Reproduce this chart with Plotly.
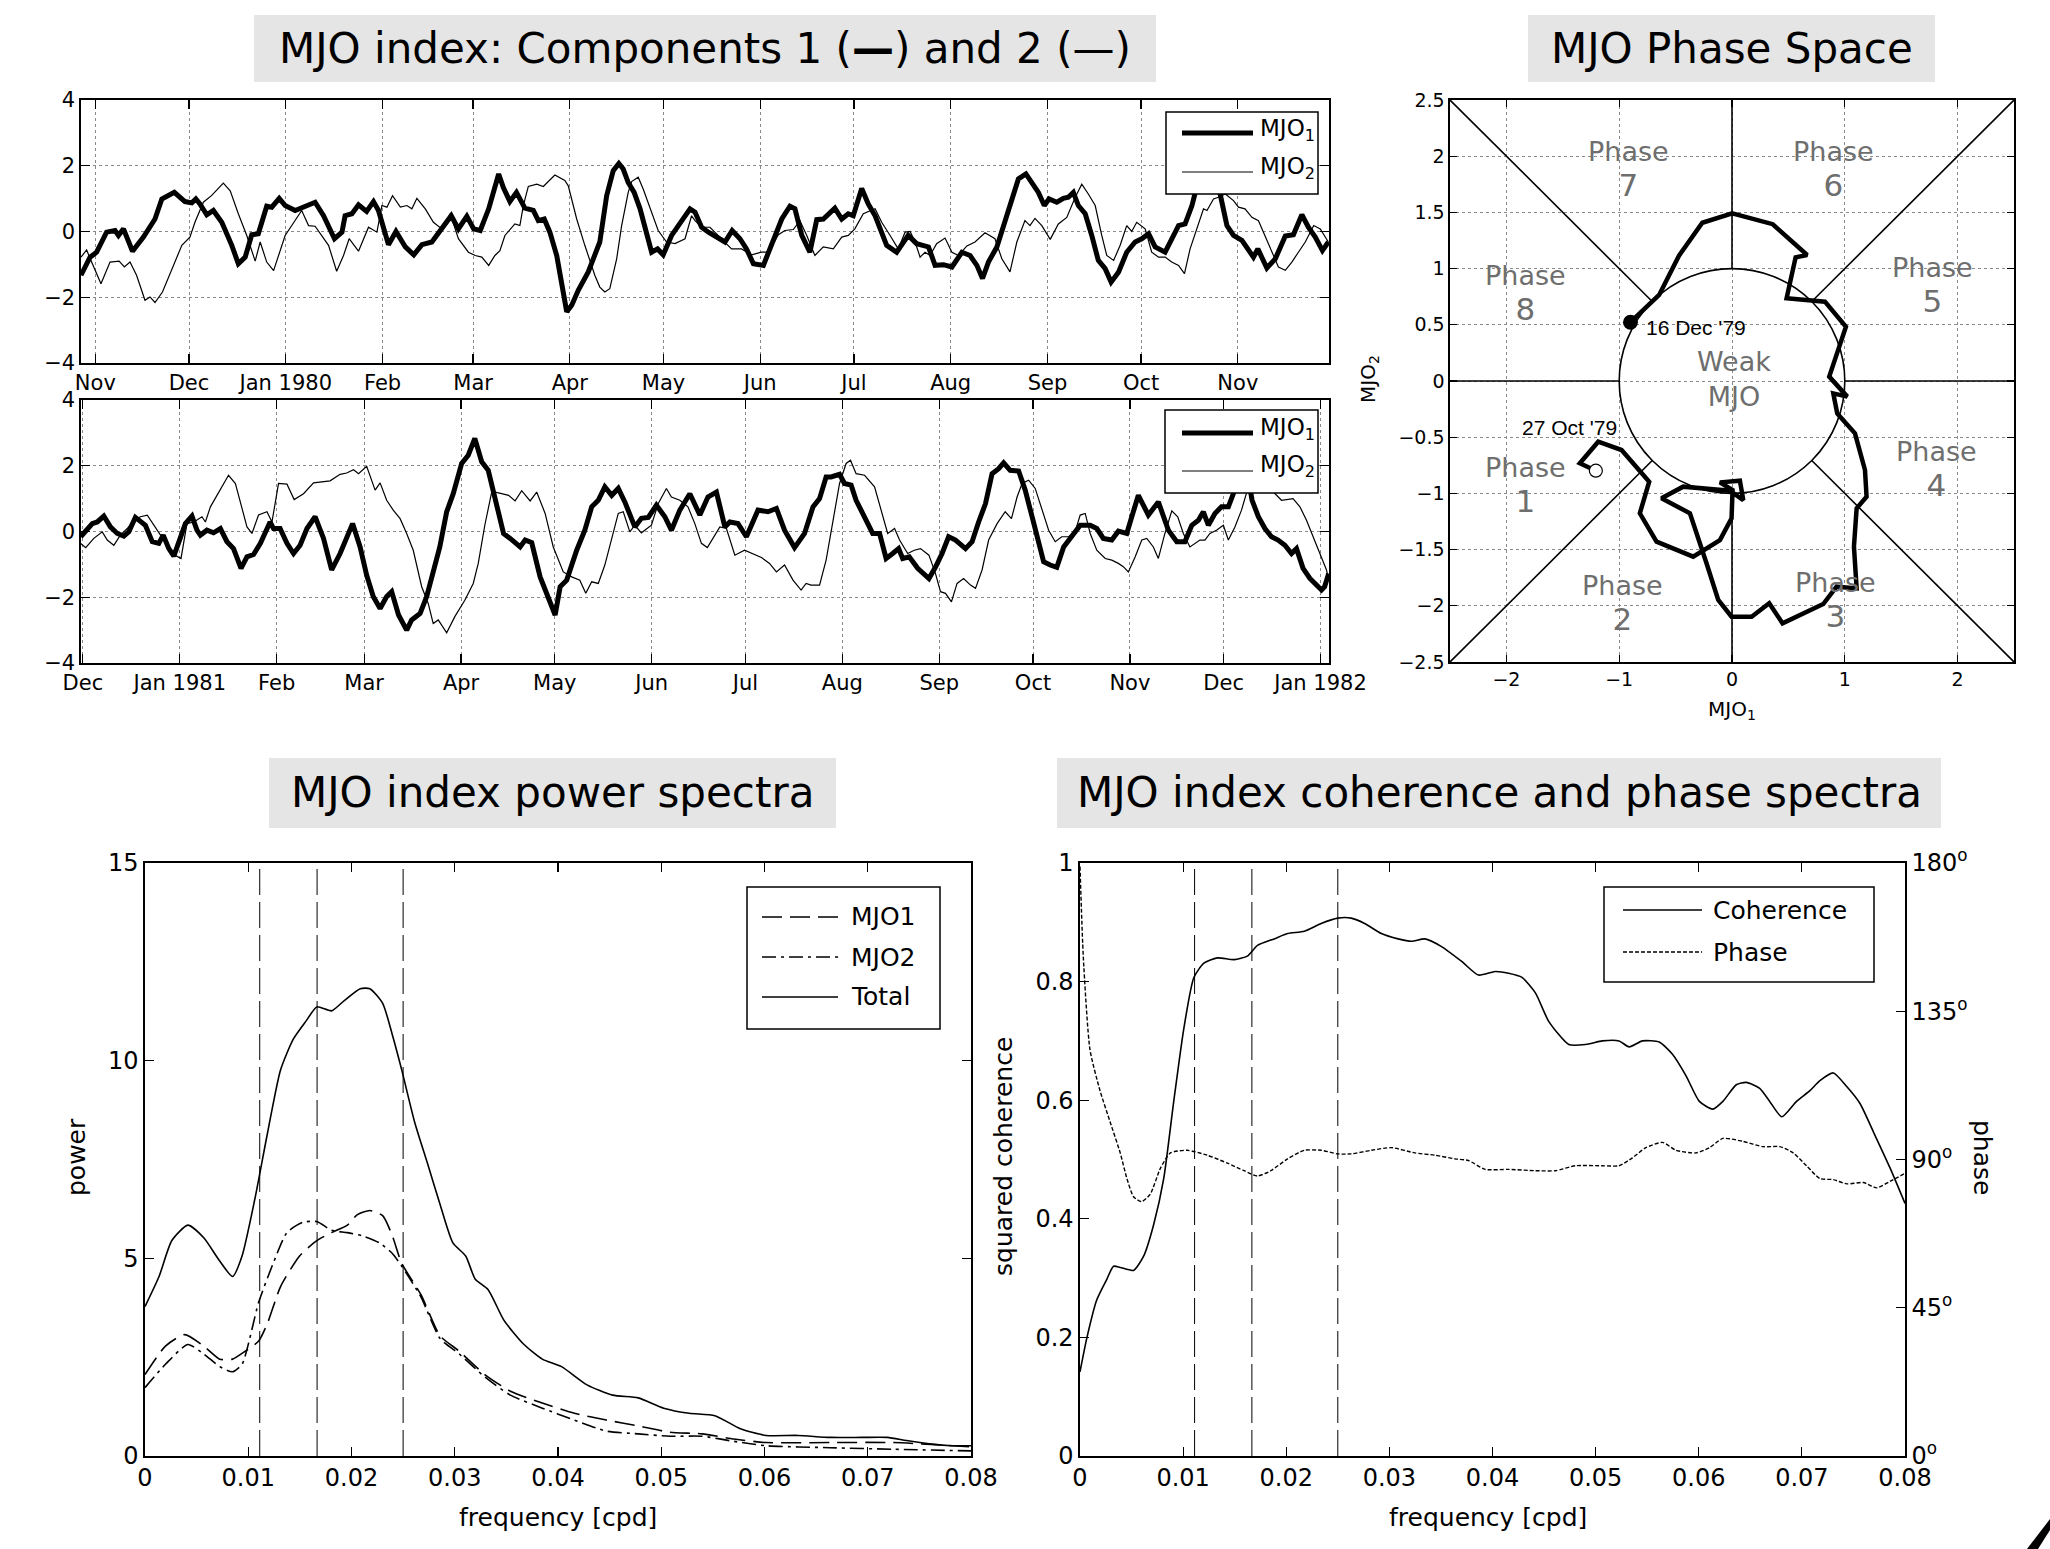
import math
import pandas as pd
import plotly.graph_objects as go

W, H = 2050, 1549
FONT = "DejaVu Sans"

# ------------------------------------------------------------------ data
# Panel 1: days after 1979-11-01
p1_origin = "1979-11-01"
p1_mjo1_days = [-4.6, -1.7, 0.4, 3.6, 6.3, 7.4, 9, 11.9, 15.4, 19.1, 21.3, 23.4, 25.3, 28.7, 30.9, 32.2, 33.5, 35.7, 37.8, 40.5,
                43.7, 45.8, 48, 50.1, 52.2, 54.9, 56.5, 58.9, 60.8, 64, 67.2, 70.4, 73.1, 76.6, 79, 80, 82.2, 84.3, 86.9, 89.1,
                90.7, 93.9, 96.3, 99.3, 102, 104.6, 107.8, 111, 114, 116.3, 119, 121.2, 123.3, 126, 129.2,
                130.7, 132.8, 134.9, 137.6, 140.3, 141.9, 143.8, 145.6, 147.8, 149.4, 151, 152.6, 154.7, 157.9, 161.6, 163.8,
                165.9, 167.7, 169.1, 170.7, 172.6, 174.5, 176.1, 178.2, 180.1, 181.9, 184.6, 187.3, 190.5, 192.1, 194.2, 196.4,
                199, 201.7, 204, 206.5, 208.6, 210.8, 214, 216.6, 219.9, 222.5, 224.1, 226.3, 228.9, 231.1, 233.2, 236.9, 239.1,
                241.2, 242.8, 245.5, 247.6, 249.8, 253.5, 256.7, 260.4,
                263.1, 265.3, 266.9, 269, 271.7, 274.4, 277.6, 280.2, 282.4, 284.2, 286.1, 288.8, 291.4, 293.6, 295.7, 298.1,
                300, 302.1, 304, 305.5, 308, 310.1, 311.7, 313.3, 314.9, 317.1, 319.2, 321.3, 323.5, 325.4, 327.8, 330.4, 333.1,
                335.2, 337.4, 339.5, 342.7, 344.8, 347, 349.1, 351.3, 352.9, 355.5, 358.7, 360.3, 362.5, 364.6, 367.3, 369.4,
                371, 372.4, 375.3, 378, 381.2, 383.8, 386.5, 388.6, 390.8, 393.1, 395]
p1_mjo1_vals = [-1.33, -0.78, -0.63, -0.02, 0.03, -0.12, 0.08, -0.6, -0.17, 0.38, 0.99, 1.09, 1.19, 0.91, 0.87, 0.99, 0.84, 0.51, 0.64, 0.28,
                -0.42, -0.98, -0.78, -0.1, -0.07, 0.77, 0.74, 1.01, 0.79, 0.64, 0.76, 0.89, 0.48, -0.22, -0.02, 0.48, 0.54, 0.81, 0.61, 0.91,
                0.64, -0.4, 0.0, -0.47, -0.71, -0.4, -0.32, 0.08, 0.48, 0.08, 0.46, 0.08, 0.03, 0.69, 1.75,
                1.34, 0.91, 1.19, 0.71, 0.64, 0.33, 0.38, -0.02, -0.73, -1.54, -2.44, -2.24, -1.79, -1.23, -0.32, 1.09,
                1.85, 2.07, 1.9, 1.49, 1.19, 0.69, 0.08, -0.63, -0.53, -0.71, -0.12, 0.28, 0.69, 0.59, 0.13, -0.02,
                -0.17, -0.32, 0.03, -0.22, -0.53, -0.98, -1.03, -0.42, 0.38, 0.77, 0.69, -0.12, -0.63, 0.36, 0.38, 0.71, 0.38,
                0.54, 0.48, 1.31, 0.84, 0.48, -0.42, -0.63, -0.12,
                -0.37, -0.44, -0.47, -1.03, -1.01, -1.08, -0.63, -0.73, -1.03, -1.43, -0.93, -0.47, 0.33, 0.89, 1.6, 1.75,
                1.49, 1.19, 0.79, 0.99, 0.89, 1.01, 1.04, 1.19, 0.79, 0.54, -0.12, -0.88, -1.13, -1.54, -1.23, -0.63, -0.32,
                -0.22, -0.07, -0.47, -0.63, -0.27, 0.18, 0.23, 0.79, 1.39, 1.8, 1.7, 1.15, 0.18, -0.12, -0.27, -0.53,
                -0.78, -0.53, -1.11, -0.83, -0.14, -0.1, 0.51, 0.13, -0.17, -0.58, -0.32]
p1_mjo2_days = [-4.6, -2.8, -1.2, 1.8, 4.7, 7.6, 9.3, 11.1, 13.2, 15.9, 17.5, 19.1, 21.5, 24.5, 27.7, 30.3, 31.9, 34.6, 37.2, 41,
                43.2, 45.8, 48.5, 51.2, 52.8, 54.9, 57.1, 60.8, 66.1, 68.3, 70.4, 74.7, 77.3, 79.5, 81.3, 84.3, 87.5, 90.2, 91.8, 93.4,
                95.2, 97.7, 99.8, 101.4, 103, 105.7, 108.3, 111, 113.7, 116.3, 119.5, 121.7, 123.8, 126,
                128, 129.6, 131.2, 134.4, 136, 137.1, 138.7, 141.4, 143.5, 147.2, 150.4, 151.5, 154.2, 156.8, 160, 161.6, 163.2,
                164.8, 167, 168.6, 170.7, 171.8, 173.9, 175.5, 177.7, 180.3, 183, 185.7, 188.9, 191, 192.1, 194.2, 196.9, 200.6,
                203.8, 207, 210.2, 213.4, 215.6, 218.8, 220.9, 223.6, 225.7, 227.9, 230.5, 233.2, 236.4, 239.1, 241.2, 243.3,
                246, 249.8, 251.9, 254.6, 257.2, 259.4, 261,
                262.6, 264.2, 265.8, 267.4, 269.5, 272.2, 274.4, 276.5, 279.2, 281.8, 285, 288.2, 290.4, 293, 295.2, 297.8,
                299.4, 301, 303.2, 305.9, 308.5, 311.2, 313.9, 316, 318.1, 320.3, 322.4, 324, 326.2, 328.3, 330.4, 332, 333.6,
                336.3, 338.4, 340.6, 342.7, 344.8, 347, 348.9, 350.7, 352.9, 355, 356.1, 358.2, 359.8, 362, 364.6, 366.2, 368.3,
                370.5, 372.6, 374.7, 376.9, 379, 381.2, 383.3, 385.4, 387.6, 390.3, 392.4, 395]
p1_mjo2_vals = [-0.78, -0.56, -0.93, -1.59, -0.93, -0.9, -1.08, -0.93, -1.33, -2.09, -1.99, -2.16, -1.84, -1.13, -0.42, -0.17, 0.28, 0.89, 1.09, 1.47,
                1.24, 0.54, -0.12, -0.9, -0.32, -0.93, -1.19, -0.12, 0.64, 0.18, 0.16, -0.42, -1.21, -0.73, -0.22, -0.6, 0.13, -0.02, 0.79, 0.74,
                1.09, 0.74, 0.79, 0.69, 1.01, 0.69, 0.28, 0.08, 0.54, -0.22, -0.63, -0.73, -0.78, -1.03,
                -0.73, -0.58, -0.12, 0.23, 0.18, 0.79, 1.37, 1.44, 1.37, 1.72, 1.55, 1.39, 0.38, -0.42, -1.33, -1.69, -1.84,
                -1.74, -0.83, 0.18, 1.19, 1.52, 1.65, 1.29, 0.69, 0.03, -0.32, -0.37, -0.22, 0.48, 0.33, 0.13, 0.13, -0.22,
                -0.53, -0.53, -0.71, -0.63, -0.63, -0.1, 0.03, 0.06, 0.33, -0.12, -0.73, -0.47, -0.53, -0.17, -0.12, 0.08,
                0.54, 0.69, 0.28, -0.12, -0.53, -0.02, 0.0,
                -0.32, -0.78, -0.63, -0.73, -0.37, -0.2, -0.63, -0.73, -0.44, -0.32, -0.04, -0.22, -0.83, -1.23, -0.32, 0.33,
                0.18, 0.4, 0.18, -0.24, 0.23, 0.43, 1.04, 1.44, 1.14, 0.79, -0.12, -0.73, -0.88, -0.42, 0.18, 0.0, 0.28,
                0.08, -0.63, -0.78, -0.78, -0.93, -1.03, -1.28, -0.53, 0.08, 0.69, 0.64, 0.99, 1.04, 1.14, 0.94, 0.74, 0.69,
                0.43, 0.33, -0.12, -0.63, -1.08, -1.18, -0.93, -0.63, -0.32, 0.18, 0.08, -0.32]

# Panel 2: days after 1980-12-01
p2_origin = "1980-12-01"
p2_mjo1_days = [-0.7, 0.9, 3, 4.6, 6.7, 8.8, 11, 13.1, 14.7, 16.8, 18.4, 20, 22.2, 24.3, 25.7, 27.5, 29.1, 31, 32.8, 34.9,
                36.5, 37.6, 39.7, 41.8, 44, 46.1, 48.2, 50.6, 52.5, 54.6, 56.8, 59.9, 61, 63.1, 65.3, 67.4, 69.5, 71.7, 74.3, 77,
                79.6, 82.3, 84.4, 86.3, 88.7, 90.8, 92.9, 95.1, 97.2, 98.8, 101, 103.6, 105.2, 107.9, 110, 112.1, 114.2, 116.4, 118.5, 121.2,
                123.3, 125.4, 127.6, 129.7, 131.8,
                134.6, 136.7, 139.9, 141.5, 143.6, 146.3, 148.9, 151.1, 152.7, 154.8, 158, 160.6, 162.8, 164.9, 167, 169.2, 171.3, 173.4, 176.6, 178.7,
                180.9, 183.5, 186.2, 188.3, 191, 194.2, 197.4, 200, 202.7, 205.4, 207, 209.6, 212.3, 216, 219.2, 221.9, 224.5, 227.7, 230.9, 233.6,
                235.7, 237.8, 239.4, 242.1, 243.7, 245.8, 247.4, 250.1, 252.7, 254.9, 257, 259.1, 261, 262.3, 264.4, 267.1, 269.2,
                270.7, 272.8, 274.9, 277, 279.2, 282.4, 284.5, 286.6, 288.8, 290.9, 293, 294.6, 296.7, 299.4, 301.5, 303.7, 305.8, 307.4, 309.5, 311.6,
                313.8, 316.4, 319.1, 322.3, 324.4, 326.5, 329.2, 331.3, 334, 335.6, 337.7, 340.9, 344.1, 347.3, 350, 352.6, 354.8, 356.9, 358.5, 360.1,
                362.2, 364.3, 366.5, 368.1, 369.7, 371.5, 372.9, 374.1, 376.1, 378.2, 380.3, 382.4, 384.6, 386.7, 388.3, 390.4, 392.6, 394.7, 396.3, 397.3,
                398.6]
p2_mjo1_vals = [-0.16, 0.04, 0.24, 0.29, 0.47, 0.14, -0.06, -0.14, -0.01, 0.43, 0.29, 0.19, -0.31, -0.36, -0.11, -0.52, -0.75, -0.26, 0.24, 0.47,
                0.04, -0.11, 0.04, -0.04, 0.09, -0.31, -0.52, -1.12, -0.77, -0.7, -0.36, 0.29, 0.09, 0.09, -0.36, -0.67, -0.42, 0.09, 0.45, -0.21,
                -1.17, -0.67, -0.16, 0.24, -0.47, -1.33, -1.98, -2.34, -1.98, -1.83, -2.54, -3.0, -2.69, -2.49, -1.98, -1.23, -0.47, 0.6, 1.15, 2.07,
                2.32, 2.83, 2.12, 1.86, 1.05,
                -0.06, -0.21, -0.47, -0.26, -0.34, -1.38, -1.98, -2.54, -1.68, -1.48, -0.57, 0.04, 0.75, 0.95, 1.36, 1.1, 1.31, 0.9, 0.14, 0.4,
                0.43, 0.8, 0.45, 0.04, 0.65, 1.15, 0.5, 1.05, 1.2, 0.14, 0.29, 0.24, -0.16, 0.65, 0.6, 0.7, 0.04, -0.49, -0.06, 0.75,
                1.0, 1.66, 1.66, 1.74, 1.46, 1.41, 0.95, 0.45, -0.06, -0.06, -0.82, -0.67, -0.52, -0.82, -0.77, -1.12, -1.28,
                -1.43, -1.08, -0.67, -0.16, -0.26, -0.52, -0.31, 0.29, 0.85, 1.76, 1.91, 2.09, 1.86, 1.84, 1.26, 0.45, -0.36, -0.92, -1.02, -1.09,
                -0.47, -0.16, 0.19, 0.19, 0.09, -0.21, -0.26, 0.01, -0.06, 0.45, 1.1, 0.5, 0.9, 0.04, -0.31, -0.31, 0.19, 0.34, 0.6, 0.19,
                0.55, 0.75, 0.75, 1.15, 1.6, 1.8, 1.6, 0.95, 0.45, 0.09, -0.16, -0.26, -0.42, -0.67, -0.52, -1.12, -1.43, -1.63, -1.78, -1.68,
                -1.28]
p2_mjo2_days = [-0.7, 0.9, 3.5, 6.2, 7.8, 9.9, 12, 14.2, 16.3, 18.4, 20.6, 23.2, 25.9, 28.5, 31.4, 33.3, 35.5, 38.1, 39.2, 40.8,
                43.4, 46.6, 48.8, 50.9, 52.5, 54.1, 56.2, 58.9, 60.5, 62.6, 65.3, 67.6, 70.6, 73.8, 76.4, 79.1, 82.3, 84.4, 86.6, 88.2,
                90.8, 93.5, 95.1, 97.2, 99.3, 101.5, 103.6, 105.7, 108.4, 110.5, 112.1, 113.7, 116.4, 119, 122.2, 124.9, 126.5, 128.6, 130.7,
                131.9, 134, 136.2, 138.3, 140.4, 143.1, 145.2, 147.9, 150.5, 153.7, 156.4, 159, 160.9, 162.8, 164.9, 167, 169.2, 171.3, 172.9, 175,
                176.6, 178.7, 181.9, 184.1, 186.7, 188.3, 191, 193.6, 195.8, 197.9, 199.8, 202.2, 203.8, 205.9, 208.6, 211.7, 214.4, 217.1, 219.7, 221.9,
                224.5, 227.2, 229.8, 231.4, 233, 235.7, 237.8, 240, 242.1, 244.2, 245.6, 247.4, 250.1, 253.3, 255.4, 257.5, 259.7, 261.3, 263.9, 266,
                268,
                270.7, 272.8, 274.4, 276, 277.9, 279.7, 281.8, 284, 285.6, 287.7, 289.8, 292.5, 295.1, 297.1, 298.9, 300.5, 302.6, 304.7, 306.9, 309,
                311.1, 313.2, 315.4, 317.5, 319.1, 320.7, 322.3, 324.4, 327.1, 329.2, 331.3, 332.9, 334.5, 336.7, 338.8, 340.4, 342.5, 344.1, 346.2, 348.4,
                350.3, 352.1, 354.2, 355.8, 357.4, 359, 360.6, 362.7, 364.9, 366.5, 368.6, 370.7, 372.9, 374.6, 377.1, 380.3, 383.5, 387.2, 389.4, 391.5,
                394.1, 396.3, 397.9, 398.6]
p2_mjo2_vals = [-0.36, -0.49, -0.21, -0.01, -0.26, -0.42, -0.11, 0.09, 0.34, 0.45, 0.5, 0.14, -0.26, -0.67, -0.82, 0.24, 0.29, 0.45, 0.29, 0.75,
                1.2, 1.71, 1.46, 0.75, 0.14, -0.06, 0.5, 0.6, 0.29, 1.46, 1.44, 0.97, 1.15, 1.48, 1.51, 1.54, 1.74, 1.78, 1.88, 1.76,
                1.98, 1.26, 1.48, 0.95, 0.65, 0.39, -0.06, -0.57, -1.68, -2.19, -2.8, -2.69, -3.08, -2.59, -2.09, -1.58, -0.97, 0.19, 1.15,
                1.2, 1.15, 1.1, 0.93, 1.24, 0.93, 1.2, 0.55, -0.47, -1.23, -1.38, -1.48, -1.88, -1.53, -1.58, -1.02, -0.26, 0.55, 0.6, -0.01,
                0.19, -0.04, 0.19, 0.85, 1.31, 1.05, 0.95, 0.75, 0.24, -0.36, -0.49, -0.11, 0.14, 0.09, -0.72, -0.57, -0.67, -0.79, -0.97, -1.23,
                -1.02, -1.48, -1.78, -1.58, -1.63, -1.63, -0.87, 0.34, 1.46, 2.07, 2.17, 1.76, 1.71, 1.36, 0.65, -0.06, 0.09, -0.26, -0.67, -0.57,
                -0.52,
                -0.72, -1.28, -1.83, -1.88, -2.14, -1.58, -1.43, -1.63, -1.73, -1.17, -0.26, 0.24, 0.6, 0.39, 1.05, 1.46, 1.56, 1.31, 0.65, 0.04,
                -0.31, -0.16, -0.16, 0.01, 0.5, 0.55, -0.06, -0.57, -0.82, -0.87, -0.97, -1.07, -1.23, -0.77, -0.26, -0.21, -0.47, -0.82, -0.06, 0.63,
                0.45, -0.06, -0.47, -0.36, -0.26, -0.26, -0.06, 0.04, 0.19, -0.26, 0.14, 0.65, 1.36, 2.0, 1.9, 1.26, 0.95, 1.0, 0.75, 0.34,
                -0.26, -0.77, -1.17, -1.48]

p1_month_ticks = ["1979-11-01", "1979-12-01", "1980-01-01", "1980-02-01", "1980-03-01", "1980-04-01", "1980-05-01",
                  "1980-06-01", "1980-07-01", "1980-08-01", "1980-09-01", "1980-10-01", "1980-11-01"]
p1_month_labels = ["Nov", "Dec", "Jan 1980", "Feb", "Mar", "Apr", "May", "Jun", "Jul", "Aug", "Sep", "Oct", "Nov"]
p2_month_ticks = ["1980-12-01", "1981-01-01", "1981-02-01", "1981-03-01", "1981-04-01", "1981-05-01", "1981-06-01",
                  "1981-07-01", "1981-08-01", "1981-09-01", "1981-10-01", "1981-11-01", "1981-12-01", "1982-01-01"]
p2_month_labels = ["Dec", "Jan 1981", "Feb", "Mar", "Apr", "May", "Jun", "Jul", "Aug", "Sep", "Oct", "Nov", "Dec", "Jan 1982"]
series_names = ["MJO<sub>1</sub>", "MJO<sub>2</sub>"]

# Phase space trajectory (MJO1, MJO2), 27 Oct '79 -> 16 Dec '79
phase_mjo1 = [-1.207, -1.349, -1.186, -0.979, -0.734, -0.817, -0.669, -0.344, -0.107, -0.004, 0.005, -0.107, 0.070, 0.100,
              -0.019, -0.433, -0.625, -0.373, -0.226, -0.122, -0.004, 0.174, 0.330, 0.448, 0.809, 0.927, 1.105, 1.081,
              1.105, 1.193, 1.179, 1.090, 0.933, 0.898, 1.022, 0.862, 1.010, 0.824, 0.484, 0.564, 0.666, 0.556, 0.361,
              0.002, -0.263, -0.470, -0.646, -0.900]
phase_mjo2 = [-0.798, -0.732, -0.540, -0.614, -0.896, -1.177, -1.429, -1.563, -1.415, -1.222, -0.970, -0.902, -0.887, -1.059,
              -0.976, -0.940, -1.044, -1.177, -1.622, -1.948, -2.097, -2.097, -1.978, -2.156, -1.984, -1.830, -1.845, -1.474,
              -1.133, -1.029, -0.792, -0.466, -0.288, -0.110, -0.139, 0.039, 0.483, 0.706, 0.736, 1.100, 1.121, 1.215, 1.395,
              1.492, 1.408, 1.115, 0.766, 0.523]
phase_start_label = "27 Oct '79"
phase_end_label = "16 Dec '79"
phase_names = ["1", "2", "3", "4", "5", "6", "7", "8"]

# Power spectra
pw_mjo1_f = [0, 0.00198, 0.00384, 0.00569, 0.00724, 0.00848, 0.00971, 0.01101, 0.01188, 0.01312, 0.01497, 0.01664, 0.01807,
             0.01961, 0.02054, 0.02178, 0.02302, 0.02394, 0.02487, 0.02673, 0.02858, 0.03044, 0.03291, 0.03539, 0.03848,
             0.04158, 0.04467, 0.04776, 0.05086, 0.05395, 0.05704, 0.06014, 0.06633, 0.07251, 0.08]
pw_mjo1 = [2.06, 2.78, 3.07, 2.78, 2.45, 2.45, 2.65, 2.91, 3.37, 4.28, 5.06, 5.45, 5.65, 5.84, 6.1, 6.21, 6.08, 5.58, 4.87,
           4.08, 3.04, 2.65, 2.06, 1.64, 1.34, 1.08, 0.91, 0.76, 0.6, 0.56, 0.43, 0.34, 0.34, 0.34, 0.23]
pw_mjo2_f = [0, 0.00198, 0.00415, 0.00569, 0.00724, 0.00848, 0.0094, 0.01101, 0.0125, 0.01374, 0.01528, 0.01664, 0.01807,
             0.01961, 0.02116, 0.02271, 0.02394, 0.02487, 0.02673, 0.02858, 0.03044, 0.03291, 0.03539, 0.03848, 0.04158,
             0.04467, 0.04776, 0.05086, 0.05395, 0.05704, 0.06014, 0.06633, 0.07251, 0.08]
pw_mjo2 = [1.73, 2.32, 2.82, 2.58, 2.26, 2.13, 2.32, 3.89, 4.93, 5.65, 5.91, 5.93, 5.71, 5.65, 5.56, 5.39, 5.13, 4.8, 4.02,
           2.97, 2.58, 2.0, 1.54, 1.21, 0.91, 0.63, 0.56, 0.5, 0.5, 0.37, 0.26, 0.21, 0.17, 0.13]
pw_total_f = [0, 0.00136, 0.0026, 0.00415, 0.00569, 0.00724, 0.00848, 0.0094, 0.01064, 0.01188, 0.01312, 0.01435, 0.01559,
              0.01664, 0.01807, 0.0193, 0.02085, 0.02178, 0.02302, 0.02394, 0.02487, 0.02611, 0.02735, 0.02858, 0.02982,
              0.03106, 0.03199, 0.03322, 0.03477, 0.03663, 0.03848, 0.04034, 0.04281, 0.04529, 0.04776, 0.05024, 0.05271,
              0.05519, 0.05766, 0.06014, 0.06323, 0.06633, 0.06942, 0.0719, 0.07375, 0.07622, 0.07808, 0.08]
pw_total = [3.78, 4.54, 5.45, 5.84, 5.52, 4.93, 4.54, 5.06, 6.5, 8.19, 9.76, 10.54, 11.0, 11.36, 11.26, 11.52, 11.82, 11.82,
            11.45, 10.67, 9.76, 8.45, 7.41, 6.36, 5.39, 5.06, 4.47, 4.21, 3.43, 2.84, 2.45, 2.26, 1.8, 1.54, 1.47, 1.21, 1.08,
            1.02, 0.69, 0.52, 0.52, 0.47, 0.47, 0.47, 0.39, 0.3, 0.26, 0.26]
power_names = ["MJO1", "MJO2", "Total"]
period_lines_days = [90, 60, 40]

# Coherence and phase spectra
coh_f = [0, 0.00065, 0.00162, 0.0026, 0.00325, 0.0039, 0.00519, 0.00617, 0.00714, 0.00812, 0.00909, 0.01006, 0.01104,
         0.01201, 0.01331, 0.01494, 0.01623, 0.01721, 0.01883, 0.02013, 0.02175, 0.02338, 0.025, 0.0263, 0.0276, 0.02922,
         0.03084, 0.03214, 0.03344, 0.03506, 0.03701, 0.03864, 0.04026, 0.04156, 0.04286, 0.04416, 0.04545, 0.0474,
         0.04903, 0.05065, 0.05227, 0.05325, 0.05455, 0.05617, 0.05747, 0.05877, 0.06006, 0.06136, 0.06234, 0.06364,
         0.06461, 0.06591, 0.06688, 0.06805, 0.06948, 0.07078, 0.07175, 0.07305, 0.07435, 0.07565, 0.07695, 0.07857, 0.08]
coherence = [0.142, 0.198, 0.263, 0.298, 0.32, 0.318, 0.313, 0.337, 0.39, 0.468, 0.598, 0.72, 0.807, 0.831, 0.84, 0.837,
             0.843, 0.861, 0.872, 0.881, 0.885, 0.898, 0.907, 0.907, 0.898, 0.881, 0.872, 0.868, 0.872, 0.859, 0.834,
             0.811, 0.817, 0.814, 0.807, 0.781, 0.733, 0.694, 0.694, 0.7, 0.7, 0.69, 0.7, 0.698, 0.677, 0.641, 0.598,
             0.585, 0.598, 0.626, 0.63, 0.62, 0.598, 0.572, 0.598, 0.616, 0.633, 0.646, 0.623, 0.594, 0.546, 0.485, 0.426]
ph_f = [0, 0.00032, 0.00097, 0.00195, 0.00292, 0.0039, 0.00455, 0.00519, 0.00597, 0.00682, 0.00779, 0.00877, 0.01039,
        0.01234, 0.01429, 0.01591, 0.01721, 0.01851, 0.02013, 0.02175, 0.02338, 0.025, 0.0263, 0.02825, 0.0302, 0.03247,
        0.03442, 0.03636, 0.03766, 0.03929, 0.04156, 0.04416, 0.0461, 0.04805, 0.05065, 0.05227, 0.05357, 0.05487,
        0.05649, 0.05779, 0.05974, 0.06104, 0.06234, 0.06429, 0.06623, 0.06786, 0.06916, 0.07045, 0.07175, 0.07305,
        0.07435, 0.07597, 0.07727, 0.07857, 0.08]
phase_deg = [178.9, 151.5, 123.3, 110.8, 101.4, 92, 84.2, 78.7, 77.2, 79.5, 87.3, 92, 92.8, 91.3, 88.9, 86.6, 85, 86.6,
             90.2, 92.8, 92.8, 91.7, 91.7, 92.8, 93.6, 92, 91.3, 90.2, 89.7, 87, 87, 86.6, 86.6, 88.1, 88.1, 88.1, 90.5,
             93.6, 95.2, 92.8, 92, 93.6, 96.4, 95.5, 93.9, 93.9, 92, 88.1, 84.2, 83.9, 82.6, 83, 81.4, 83.4, 85.8]
coh_names = ["Coherence", "Phase"]
phase_ticks = [0, 45, 90, 135, 180]


# ------------------------------------------------------------------ helpers
def to_dates(origin, days):
    t0 = pd.Timestamp(origin)
    return [t0 + pd.Timedelta(days=float(d)) for d in days]


def px(x):
    return x / W


def py(y):
    return 1 - y / H


fig = go.Figure()

THICK = dict(color="black", width=5)
THIN = dict(color="black", width=1.2)
DASH1 = dict(color="black", width=1.6, dash="20px,8px")
DASH2 = dict(color="black", width=1.6, dash="14px,5px,3px,5px")
SOLID = dict(color="black", width=1.6)
DOTS = dict(color="black", width=1.4, dash="4px,2px")

# ---- top time-series panels
for origin, d1, v1, d2, v2, xa, ya in [
    (p1_origin, p1_mjo1_days, p1_mjo1_vals, p1_mjo2_days, p1_mjo2_vals, "x", "y"),
    (p2_origin, p2_mjo1_days, p2_mjo1_vals, p2_mjo2_days, p2_mjo2_vals, "x2", "y2"),
]:
    fig.add_trace(go.Scatter(x=to_dates(origin, d2), y=v2, mode="lines", name=series_names[1],
                             line=THIN, xaxis=xa, yaxis=ya, showlegend=False))
    fig.add_trace(go.Scatter(x=to_dates(origin, d1), y=v1, mode="lines", name=series_names[0],
                             line=THICK, xaxis=xa, yaxis=ya, showlegend=False))

# ---- phase space
fig.add_trace(go.Scatter(x=phase_mjo1, y=phase_mjo2, mode="lines", line=dict(color="black", width=4.5),
                         xaxis="x3", yaxis="y3", showlegend=False))
fig.add_trace(go.Scatter(x=[phase_mjo1[0]], y=[phase_mjo2[0]], mode="markers",
                         marker=dict(size=13, color="white", line=dict(color="black", width=1.2)),
                         xaxis="x3", yaxis="y3", showlegend=False))
fig.add_trace(go.Scatter(x=[phase_mjo1[-1]], y=[phase_mjo2[-1]], mode="markers",
                         marker=dict(size=15, color="black"),
                         xaxis="x3", yaxis="y3", showlegend=False))

# ---- power spectra
for f, v, nm, st in [(pw_mjo1_f, pw_mjo1, power_names[0], DASH1), (pw_mjo2_f, pw_mjo2, power_names[1], DASH2),
                     (pw_total_f, pw_total, power_names[2], SOLID)]:
    fig.add_trace(go.Scatter(x=f, y=v, mode="lines", name=nm, line=dict(**st, shape="spline", smoothing=0.6),
                             xaxis="x4", yaxis="y4", showlegend=False))

# ---- coherence / phase
fig.add_trace(go.Scatter(x=coh_f, y=coherence, mode="lines", name=coh_names[0],
                         line=dict(**SOLID, shape="spline", smoothing=0.6),
                         xaxis="x5", yaxis="y5", showlegend=False))
fig.add_trace(go.Scatter(x=ph_f, y=phase_deg, mode="lines", name=coh_names[1],
                         line=dict(**DOTS, shape="spline", smoothing=0.6),
                         xaxis="x5", yaxis="y6", showlegend=False))

# ------------------------------------------------------------------ axes
tickfont_top = dict(family=FONT, size=21, color="black")
tickfont_ph = dict(family=FONT, size=19, color="black")
tickfont_bot = dict(family=FONT, size=24, color="black")
frame = dict(showline=True, linecolor="black", linewidth=1.6, ticks="inside", tickcolor="black",
             tickwidth=1.2, zeroline=False, automargin=False)
grid = dict(showgrid=True, gridcolor="#8a8a8a", griddash="dot", gridwidth=1)

dom_top_x = [px(81), px(1329)]
p1_range = [pd.Timestamp(p1_origin) - pd.Timedelta(days=4.6), pd.Timestamp(p1_origin) + pd.Timedelta(days=395.2)]
p2_range = [pd.Timestamp(p2_origin) - pd.Timedelta(days=0.6), pd.Timestamp(p2_origin) + pd.Timedelta(days=398.7)]

layout = dict(
    width=W, height=H, margin=dict(l=0, r=0, t=0, b=0, pad=0, autoexpand=False),
    paper_bgcolor="white", plot_bgcolor="white", showlegend=False,
    font=dict(family=FONT, color="black"),
    xaxis=dict(domain=dom_top_x, anchor="y", type="date", range=p1_range, tickvals=p1_month_ticks,
               ticktext=p1_month_labels, tickfont=tickfont_top, ticklen=9, mirror="ticks", tickangle=0, **frame, **grid),
    yaxis=dict(domain=[py(363), py(100)], anchor="x", range=[-4, 4], tickvals=[-4, -2, 0, 2, 4],
               tickfont=tickfont_top, ticklen=9, mirror="ticks", **frame, **grid),
    xaxis2=dict(domain=dom_top_x, anchor="y2", type="date", range=p2_range, tickvals=p2_month_ticks,
                ticktext=p2_month_labels, tickfont=tickfont_top, ticklen=9, mirror="ticks", tickangle=0, **frame, **grid),
    yaxis2=dict(domain=[py(663), py(400)], anchor="x2", range=[-4, 4], tickvals=[-4, -2, 0, 2, 4],
                tickfont=tickfont_top, ticklen=9, mirror="ticks", **frame, **grid),
    xaxis3=dict(domain=[px(1450), px(2014)], anchor="y3", range=[-2.5, 2.5], tick0=0, dtick=1,
                tickfont=tickfont_ph, ticklen=7, mirror="ticks", **frame, **grid),
    yaxis3=dict(domain=[py(662), py(100)], anchor="x3", range=[-2.5, 2.5], tick0=0, dtick=0.5,
                tickfont=tickfont_ph, ticklen=7, mirror="ticks", **frame, **grid),
    xaxis4=dict(domain=[px(145), px(971)], anchor="y4", range=[0, 0.08], tick0=0, dtick=0.01,
                tickfont=tickfont_bot, ticklen=9, mirror="ticks", showgrid=False, **frame),
    yaxis4=dict(domain=[py(1456), py(863)], anchor="x4", range=[0, 15], tick0=0, dtick=5,
                tickfont=tickfont_bot, ticklen=9, mirror="ticks", showgrid=False, **frame),
    xaxis5=dict(domain=[px(1080), px(1905)], anchor="y5", range=[0, 0.08], tick0=0, dtick=0.01,
                tickfont=tickfont_bot, ticklen=9, mirror="ticks", showgrid=False, **frame),
    yaxis5=dict(domain=[py(1456), py(863)], anchor="x5", range=[0, 1], tick0=0, dtick=0.2,
                tickfont=tickfont_bot, ticklen=9, mirror=True, showgrid=False, **frame),
    yaxis6=dict(overlaying="y5", anchor="x5", side="right", range=[0, 180], tickvals=phase_ticks,
                ticktext=[f"{v}<sup>o</sup>" for v in phase_ticks], tickfont=tickfont_bot, ticklen=9,
                showgrid=False, **frame),
)
fig.update_layout(**layout)

# ------------------------------------------------------------------ shapes & annotations
shapes = []
annotations = []

# title boxes
title_boxes = [
    ((254, 15, 1156, 82), "MJO index: Components 1 (<b>\u2014</b>) and 2 (\u2014)"),
    ((1528, 15, 1935, 82), "MJO Phase Space"),
    ((269, 758, 836, 828), "MJO index power spectra"),
    ((1057, 758, 1941, 828), "MJO index coherence and phase spectra"),
]
for (x0, y0, x1, y1), txt in title_boxes:
    shapes.append(dict(type="rect", xref="paper", yref="paper", x0=px(x0), x1=px(x1), y0=py(y1), y1=py(y0),
                       fillcolor="#e5e5e5", line=dict(width=0), layer="below"))
    annotations.append(dict(xref="paper", yref="paper", x=px((x0 + x1) / 2), y=py((y0 + y1) / 2),
                            text=txt, showarrow=False, xanchor="center", yanchor="middle",
                            font=dict(family=FONT, size=42, color="black")))

# phase-space sector lines (from unit circle out to the box edge) and weak-MJO circle
for k in range(8):
    ang = math.radians(45 * k)
    c, s = math.cos(ang), math.sin(ang)
    scale = 2.5 / max(abs(c), abs(s))
    shapes.append(dict(type="line", xref="x3", yref="y3", x0=c, y0=s, x1=c * scale, y1=s * scale,
                       line=dict(color="black", width=1.6)))
shapes.append(dict(type="circle", xref="x3", yref="y3", x0=-1, x1=1, y0=-1, y1=1,
                   line=dict(color="black", width=1.6)))

# period marker lines on spectra
for p in period_lines_days:
    for xr, yr in [("x4", "y4 domain"), ("x5", "y5 domain")]:
        shapes.append(dict(type="line", xref=xr, yref=yr, x0=1 / p, x1=1 / p, y0=0, y1=1,
                           line=dict(color="black", width=1, dash="26px,7px")))


# manual legend boxes (box px, line x-span px, text x px, rows: (line y px, style, label, text y px))
def legend_box(box, line_x, text_x, rows, size):
    x0, y0, x1, y1 = box
    shapes.append(dict(type="rect", xref="paper", yref="paper", x0=px(x0), x1=px(x1), y0=py(y1), y1=py(y0),
                       fillcolor="white", line=dict(color="black", width=1.5), layer="above"))
    for ly, style, label, ty in rows:
        shapes.append(dict(type="line", xref="paper", yref="paper", x0=px(line_x[0]), x1=px(line_x[1]),
                           y0=py(ly), y1=py(ly), line=style, layer="above"))
        annotations.append(dict(xref="paper", yref="paper", x=px(text_x), y=py(ty), text=label,
                                showarrow=False, xanchor="left", yanchor="middle",
                                font=dict(family=FONT, size=size, color="black")))


legend_box((1166, 112, 1318, 194), (1182, 1253), 1258,
           [(133, THICK, series_names[0], 130), (172, THIN, series_names[1], 168)], 23)
legend_box((1165, 410, 1318, 493), (1182, 1253), 1258,
           [(433, THICK, series_names[0], 429), (471, THIN, series_names[1], 466)], 23)
legend_box((747, 887, 940, 1029), (762, 838), 849,
           [(917, DASH1, power_names[0], 917), (957, DASH2, power_names[1], 957), (997, SOLID, power_names[2], 997)], 25)
legend_box((1604, 887, 1874, 982), (1623, 1702), 1711,
           [(910, SOLID, coh_names[0], 910), (952, DOTS, coh_names[1], 952)], 25)

# corner artefact
shapes.append(dict(type="path", xref="paper", yref="paper",
                   path=f"M {px(2050)} {py(1519)} L {px(2050)} {py(1530)} L {px(2038)} {py(1549)} L {px(2027)} {py(1549)} Z",
                   fillcolor="black", line=dict(width=0)))

# phase labels
phase_label_pos = [(-1.83, -0.93), (-0.97, -1.98), (0.92, -1.95), (1.81, -0.79),
                   (1.78, 0.85), (0.90, 1.88), (-0.92, 1.88), (-1.83, 0.78)]
for name, (xx, yy) in zip(phase_names, phase_label_pos):
    annotations.append(dict(xref="x3", yref="y3", x=xx, y=yy,
                            text=f"Phase<br><span style='font-size:31px'>{name}</span>",
                            showarrow=False, xanchor="center", yanchor="middle",
                            font=dict(family=FONT, size=27, color="#6e6e6e")))
annotations.append(dict(xref="x3", yref="y3", x=0.02, y=0.02, text="Weak<br>MJO", showarrow=False,
                        xanchor="center", yanchor="middle", font=dict(family=FONT, size=27, color="#6e6e6e")))
annotations.append(dict(xref="x3", yref="y3", x=phase_mjo1[-1], y=phase_mjo2[-1], text=phase_end_label,
                        showarrow=False, xanchor="left", yanchor="middle", xshift=14, yshift=-5,
                        font=dict(family="Liberation Sans", size=21, color="black")))
annotations.append(dict(xref="x3", yref="y3", x=-1.44, y=-0.41, text=phase_start_label,
                        showarrow=False, xanchor="center", yanchor="middle",
                        font=dict(family="Liberation Sans", size=21, color="black")))


# axis titles
def title_ann(x, y, text, size, angle=0):
    return dict(xref="paper", yref="paper", x=px(x), y=py(y), text=text, showarrow=False,
                xanchor="center", yanchor="middle", textangle=angle,
                font=dict(family=FONT, size=size, color="black"))


annotations += [
    title_ann(1732, 710, "MJO<sub>1</sub>", 20),
    title_ann(1369, 379, "MJO<sub>2</sub>", 20, -90),
    title_ann(76, 1157, "power", 25, -90),
    title_ann(558, 1517, "frequency [cpd]", 25),
    title_ann(1003, 1157, "squared coherence", 25, -90),
    title_ann(1983, 1157, "phase", 25, 90),
    title_ann(1488, 1517, "frequency [cpd]", 25),
]

fig.update_layout(shapes=shapes, annotations=annotations)
fig.write_html("out.html",
               config={"displayModeBar": False, "staticPlot": True},
               post_script="document.body.style.margin='0px';document.body.style.padding='0px';"
                           "document.body.style.overflow='hidden';")
